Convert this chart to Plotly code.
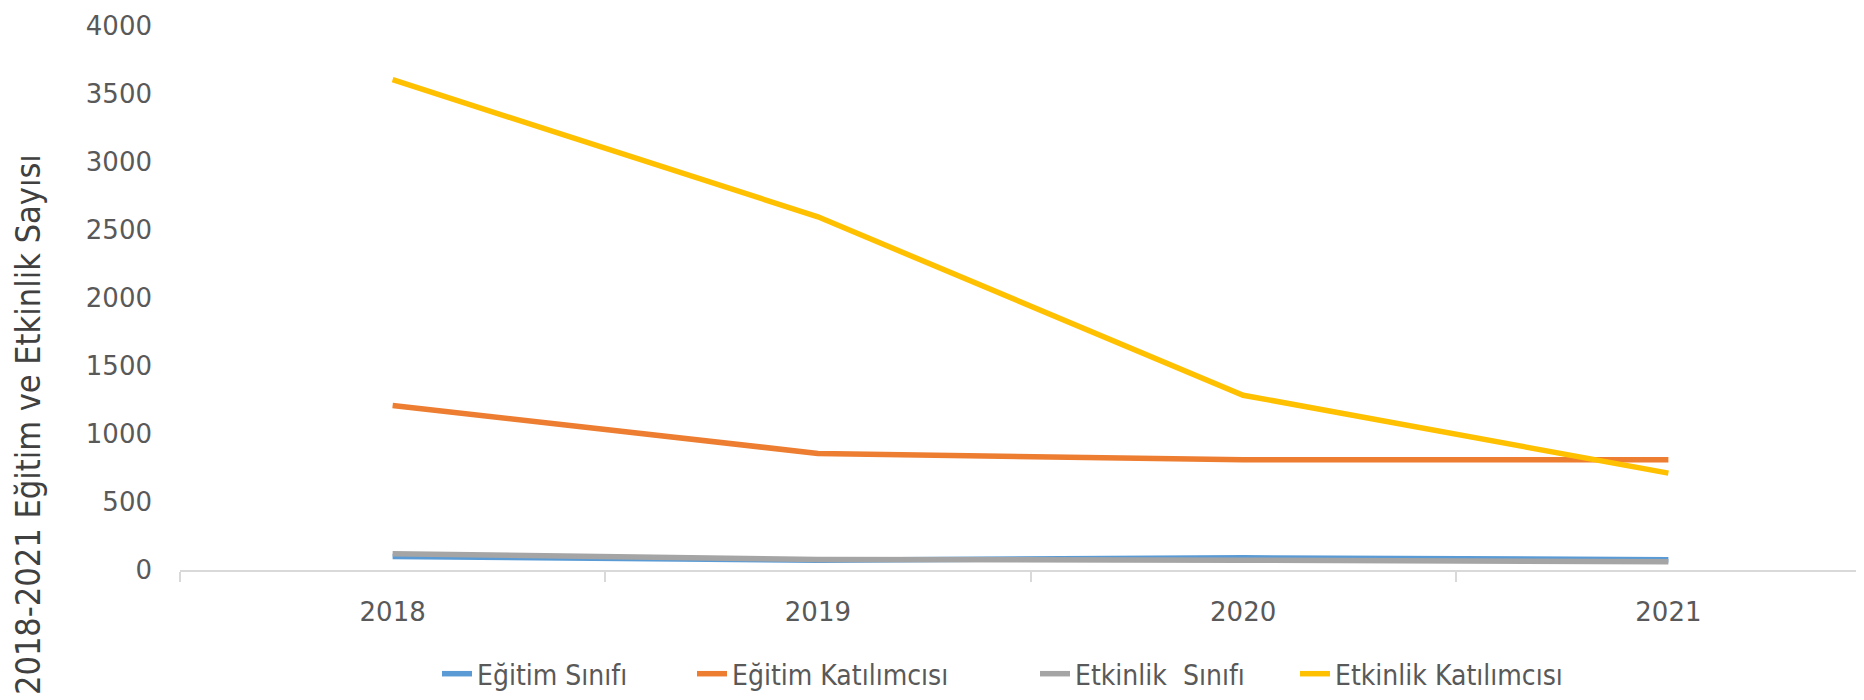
import plotly.graph_objects as go

years = ["2018", "2019", "2020", "2021"]
egitim_sinifi = [100, 72, 90, 76]
egitim_katilimcisi = [1210, 857, 810, 810]
etkinlik_sinifi = [120, 78, 72, 60]
etkinlik_katilimcisi = [3605, 2597, 1285, 712]
y_ticks = [0, 500, 1000, 1500, 2000, 2500, 3000, 3500, 4000]

series = [
    ("Eğitim Sınıfı", egitim_sinifi, "#5B9BD5"),
    ("Eğitim Katılımcısı", egitim_katilimcisi, "#ED7D31"),
    ("Etkinlik  Sınıfı", etkinlik_sinifi, "#A5A5A5"),
    ("Etkinlik Katılımcısı", etkinlik_katilimcisi, "#FFC000"),
]

narrow = "Liberation Sans Narrow, DejaVu Sans Condensed, Arial Narrow, sans-serif"

O = 8  # page body margin
W, H = 1864 - O, 700 - O
L, R, T, B = 180 - O, 0, 26 - O, 130
PW = W - L - R
PH = H - T - B
plot_bottom = H - B

# legend text start pixels (page coordinates) per entry
text_starts = [478, 733, 1076, 1336]

fig = go.Figure()
legend_layout = {}
for i, (name, vals, col) in enumerate(series):
    key = "legend" if i == 0 else f"legend{i + 1}"
    fig.add_trace(go.Scatter(
        x=years, y=vals, name=name.replace("  ", "\u00a0 "), mode="lines",
        line=dict(color=col, width=5.5), legend=key,
    ))
    left_px = text_starts[i] - O - 41
    legend_layout[key] = dict(
        orientation="h", x=(left_px - L) / PW, xanchor="left",
        y=(plot_bottom - (674 - O)) / PH, yanchor="middle",
        font=dict(family=narrow, size=28, color="#595959"),
        bgcolor="rgba(0,0,0,0)",
    )

fig.update_layout(
    width=W, height=H,
    margin=dict(l=L, r=R, t=T, b=B, autoexpand=False),
    plot_bgcolor="white", paper_bgcolor="white",
    showlegend=True,
    xaxis=dict(
        type="category", range=[-0.5, 3.46], showgrid=False, automargin=False,
        showline=True, linecolor="#D9D9D9", linewidth=2,
        ticks="outside", tickson="boundaries", ticklen=10, tickcolor="#D9D9D9", tickwidth=1.5,
        tickfont=dict(family="DejaVu Sans", size=26, color="#595959"),
        ticklabelstandoff=18, ticklabeloverflow="allow",
    ),
    yaxis=dict(
        range=[0, 4000], tickvals=y_ticks, showgrid=False, showline=False, zeroline=False,
        automargin=False,
        tickfont=dict(family="DejaVu Sans", size=26, color="#595959"),
        ticklabelstandoff=27, ticklabeloverflow="allow",
    ),
    annotations=[dict(
        text="2018-2021 Eğitim ve Etkinlik Sayısı", textangle=-90,
        xref="paper", yref="paper", x=(28 - O - L) / PW, y=(plot_bottom - (425 - O)) / PH,
        xanchor="center", yanchor="middle", showarrow=False,
        font=dict(family=narrow, size=34, color="#404040"),
    )],
    **legend_layout,
)

fig.write_html("out.html")
